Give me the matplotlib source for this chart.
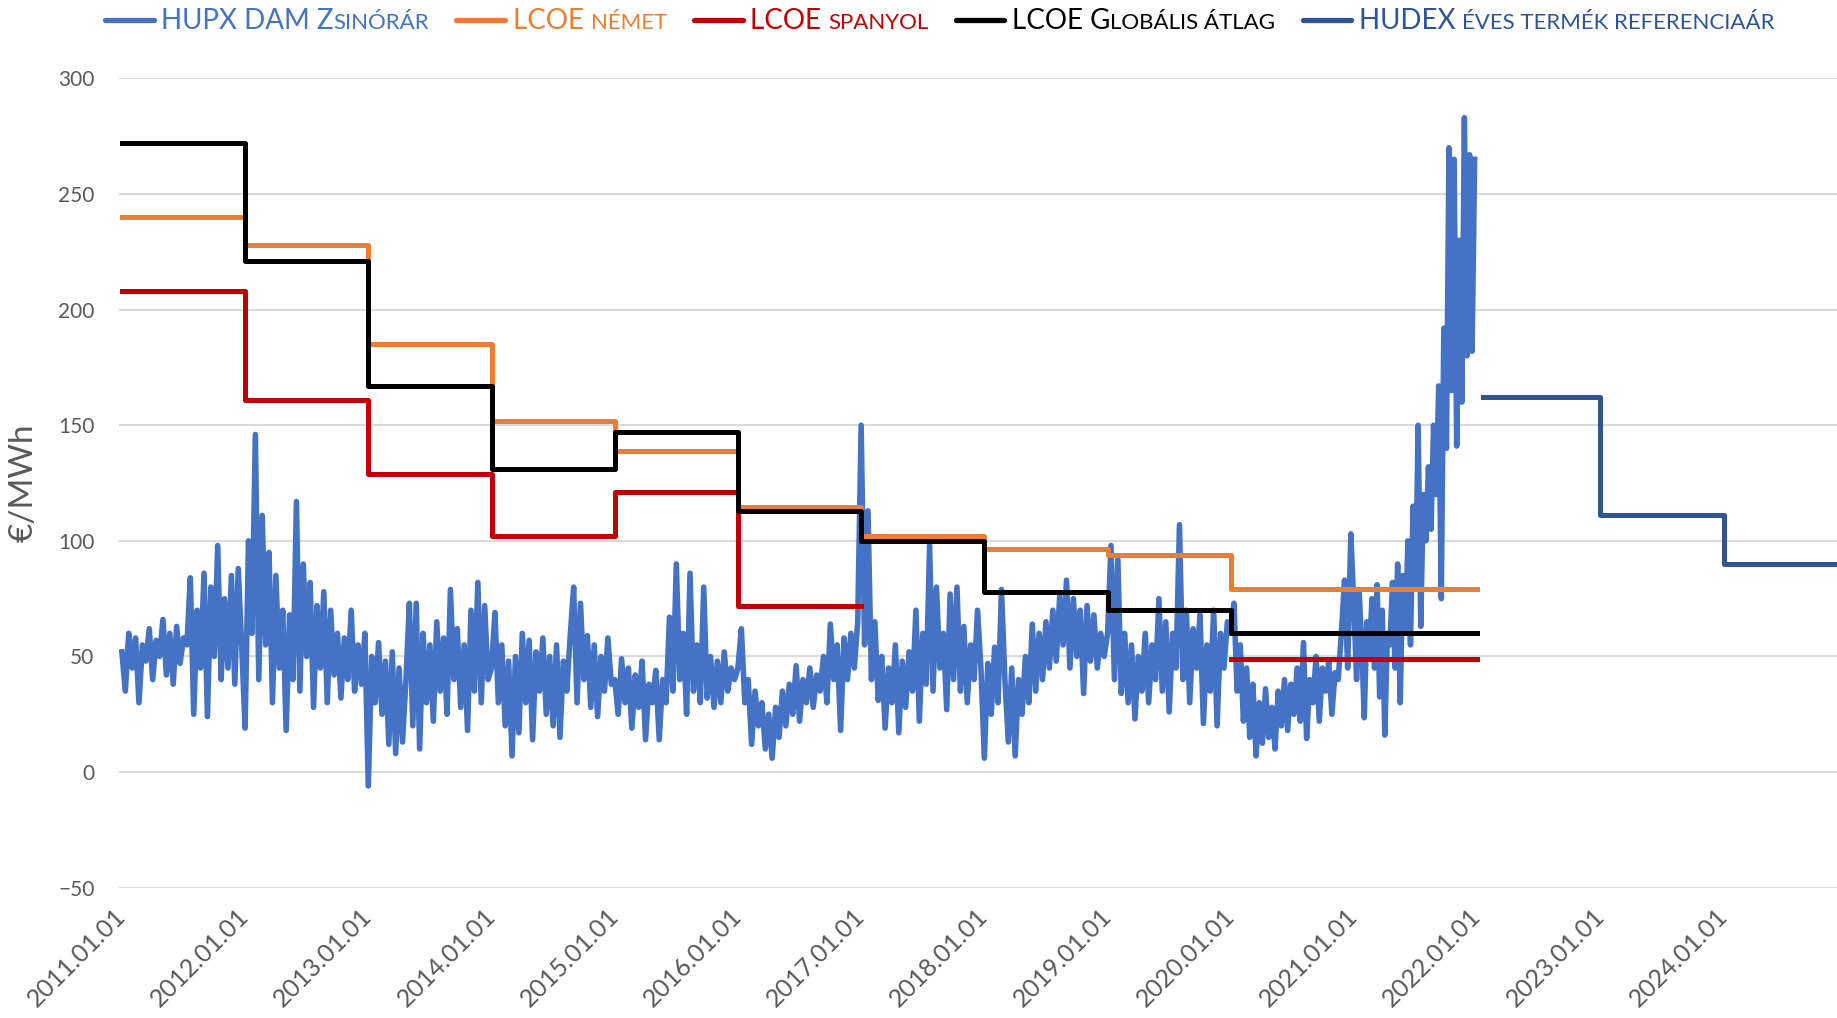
import numpy as np
import matplotlib
matplotlib.use("Agg")
import matplotlib.pyplot as plt
from matplotlib.offsetbox import HPacker, TextArea, DrawingArea, AnchoredOffsetbox
from matplotlib.lines import Line2D

# HUPX DAM base price, roughly every 10 days (EUR/MWh)
hupx_2011 = [52, 35, 60, 45, 58, 30, 55, 48, 62, 40, 57, 50, 66, 42, 60, 38, 63, 47, 58, 55,
             84, 25, 70, 45, 86, 24, 80, 50, 98, 40, 75, 45, 85, 38, 88, 55]
hupx_2012 = [19, 100, 60, 146, 40, 111, 55, 95, 30, 85, 45, 70, 18, 68, 40, 117, 35, 90, 50, 82,
             28, 72, 45, 78, 30, 70, 42, 60, 32, 58, 40, 70, 35, 55, 38, 60]
hupx_2013 = [-6, 50, 30, 56, 25, 48, 12, 52, 8, 45, 13, 40, 73, 20, 73, 10, 60, 30, 55, 22,
             65, 35, 58, 25, 79, 40, 62, 28, 55, 18, 70, 35, 82, 30, 72, 40]
hupx_2014 = [45, 69, 30, 55, 20, 48, 7, 50, 17, 60, 30, 57, 14, 52, 35, 58, 25, 50, 20, 55,
             15, 48, 35, 59, 80, 30, 73, 40, 59, 28, 55, 24, 50, 35, 58, 38]
hupx_2015 = [40, 25, 49, 30, 45, 19, 42, 28, 48, 14, 38, 30, 44, 14, 40, 30, 67, 35, 90, 40,
             60, 25, 86, 35, 55, 30, 80, 32, 50, 28, 48, 30, 52, 35, 45, 40]
hupx_2016 = [45, 62, 30, 40, 12, 35, 20, 30, 10, 25, 6, 28, 15, 35, 20, 38, 25, 46, 22, 40,
             30, 45, 28, 42, 35, 50, 30, 64, 40, 55, 18, 58, 40, 60, 45, 65]
hupx_2017 = [150, 55, 113, 40, 65, 31, 50, 19, 45, 30, 55, 17, 48, 28, 52, 35, 70, 22, 60, 38,
             98, 35, 80, 45, 60, 27, 77, 40, 80, 35, 63, 30, 55, 40, 70, 45]
hupx_2018 = [6, 47, 25, 54, 30, 79, 40, 13, 45, 7, 40, 25, 50, 30, 64, 35, 60, 40, 65, 45,
             70, 48, 76, 55, 83, 45, 75, 50, 70, 34, 72, 48, 68, 45, 60, 50]
hupx_2019 = [60, 98, 40, 92, 34, 60, 30, 55, 23, 50, 35, 60, 30, 55, 40, 75, 35, 65, 26, 60,
             45, 107, 40, 70, 30, 62, 45, 68, 21, 55, 35, 70, 20, 60, 45, 65]
hupx_2020 = [60, 73, 35, 55, 22, 45, 15, 38, 7, 30, 12.5, 36, 15, 28, 10, 35, 20, 40, 18, 38,
             25, 45, 22, 56, 14.5, 40, 30, 50, 22, 45, 35, 48, 25, 43, 40, 60, 83, 45, 103]
hupx_2021 = [70, 40, 78, 55, 23.5, 65, 50, 75, 45, 81, 32.5, 70, 16, 60, 55, 82, 45, 90, 30, 85,
             60, 100, 55, 115, 80, 150, 63, 120, 100, 132, 105, 150, 120, 167, 75, 192, 140, 270,
             165, 265, 141, 230, 160, 283, 180, 267, 182, 265]
hupx_years = [hupx_2011, hupx_2012, hupx_2013, hupx_2014, hupx_2015, hupx_2016,
              hupx_2017, hupx_2018, hupx_2019, hupx_2020, hupx_2021]

# yearly LCOE steps 2011..2021 (value holds for the year)
step_years = [2011, 2012, 2013, 2014, 2015, 2016, 2017, 2018, 2019, 2020, 2022]
lcoe_de = [240, 228, 185, 152, 139, 114.5, 102, 96.5, 94, 79, 79]
lcoe_es = [208, 161, 129, 102, 121, 72, np.nan, np.nan, np.nan, 49, 49]
lcoe_global = [272, 221, 167, 131, 147, 113, 100, 78, 70, 60, 60]

# HUDEX yearly base product reference prices
hudex_x = [2022.05, 2023, 2024, 2025]
hudex_y = [162, 111, 90, 90]

c_hupx = '#4472C4'
c_de = '#ED7D31'
c_es = '#C00000'
c_gl = '#000000'
c_hudex = '#2F5597'
grey = '#595959'

plt.rcParams['font.family'] = ['Lato', 'DejaVu Sans']

fig = plt.figure(figsize=(18.37, 10.18), dpi=100)
ax = fig.add_axes([0.065, 0.128, 0.935, 0.795])

xs = []
for i, vals in enumerate(hupx_years):
    n = len(vals)
    xs.append(2011 + i + np.arange(n) / n)
hx = np.concatenate(xs)
hy = np.concatenate([np.array(v, dtype=float) for v in hupx_years])

ax.plot(hx, hy, color=c_hupx, lw=4.0, solid_joinstyle='round', zorder=2)
ax.step(step_years, lcoe_de, where='post', color=c_de, lw=3.6, zorder=3)
ax.step(step_years, lcoe_es, where='post', color=c_es, lw=3.6, zorder=3)
ax.step(step_years, lcoe_global, where='post', color=c_gl, lw=3.6, zorder=4)
ax.step(hudex_x, hudex_y, where='post', color=c_hudex, lw=3.6, zorder=4)

ax.set_xlim(2010.98, 2024.92)
ax.set_ylim(-50, 300)
ax.set_yticks(range(-50, 301, 50))
ax.set_xticks(range(2011, 2025))
ax.set_xticklabels([f'{y}.01.01' for y in range(2011, 2025)], rotation=45, ha='right',
                   va='center', rotation_mode='anchor')
ax.tick_params(axis='x', length=0, pad=18, labelsize=18, labelcolor=grey)
ax.tick_params(axis='y', length=0, pad=18, labelsize=15, labelcolor=grey)
ax.grid(True, axis='y', color='#D9D9D9', lw=1.4)
ax.set_axisbelow(True)
for s in ax.spines.values():
    s.set_visible(False)
ax.set_ylabel('€/MWh', fontsize=24, color=grey, labelpad=14)

# legend with small-caps style labels
items = [
    (c_hupx, 'HUPX DAM Z', 'SINÓRÁR'),
    (c_de, 'LCOE ', 'NÉMET'),
    (c_es, 'LCOE ', 'SPANYOL'),
    (c_gl, 'LCOE G', 'LOBÁLIS ÁTLAG'),
    (c_hudex, 'HUDEX ', 'ÉVES TERMÉK REFERENCIAÁR'),
]
boxes = []
for col, big, small in items:
    da = DrawingArea(38, 14, 0, 0)
    da.add_artist(Line2D([1.5, 36.5], [7, 7], color=col, lw=3.8, solid_capstyle='round'))
    gap = DrawingArea(4, 1, 0, 0)
    t1 = TextArea(big, textprops=dict(color=col, fontsize=20))
    t2 = TextArea(small, textprops=dict(color=col, fontsize=16))
    boxes.append(HPacker(children=[da, gap, t1, t2], align='baseline', pad=0, sep=0))
legend_box = HPacker(children=boxes, align='baseline', pad=0, sep=18)
anch = AnchoredOffsetbox(loc='center left', child=legend_box, pad=0, frameon=False,
                         bbox_to_anchor=(0.056, 0.979), bbox_transform=fig.transFigure,
                         borderpad=0)
fig.add_artist(anch)

fig.savefig('out.png', dpi=100)
